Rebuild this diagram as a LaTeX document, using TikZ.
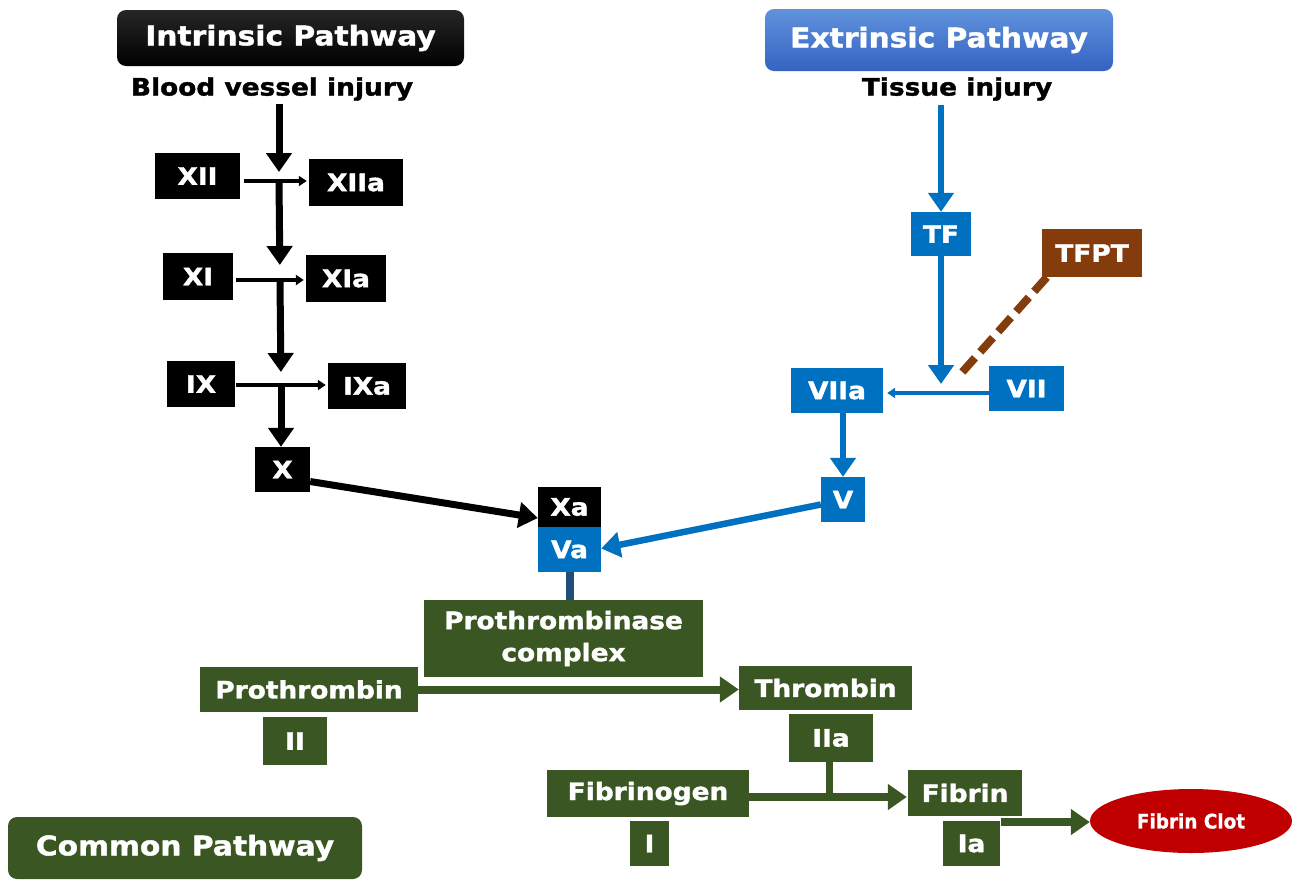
\documentclass[tikz,border=0pt]{standalone}
\usepackage{fontspec}
\setmainfont{DejaVu Sans}[FakeStretch=1.1, BoldFeatures={FakeBold=1.5}]
\newfontfamily\narrowfont{DejaVu Sans}[FakeStretch=0.92, BoldFeatures={FakeBold=1}]
\usetikzlibrary{arrows.meta,calc,shapes.geometric}
\definecolor{ablue}{HTML}{0070C0}
\definecolor{agreen}{HTML}{3A5723}
\definecolor{abrown}{HTML}{843C0C}
\definecolor{ared}{HTML}{C00000}
\definecolor{adark}{HTML}{1F4E79}
\definecolor{hblue1}{HTML}{6192DC}
\definecolor{hblue2}{HTML}{3463C2}
\begin{document}
\begin{tikzpicture}[x=1pt,y=-1pt,
  factor/.style={inner sep=0pt, text=white, font=\bfseries\fontsize{24}{28}\selectfont},
  kbox/.style={factor, fill=black},
  bbox/.style={factor, fill=ablue},
  gbox/.style={factor, fill=agreen},
  header/.style={inner sep=0pt, text=white, rounded corners=9pt, font=\bfseries\fontsize{27}{32}\selectfont},
  caption/.style={inner sep=0pt, text=black, font=\bfseries\fontsize{24}{28}\selectfont},
  bigtip/.style={-{Triangle[width=25pt,length=19pt]}},
  smalltip/.style={-{Triangle[width=10pt,length=8pt]}},
  kthick/.style={draw=black, line width=7pt, bigtip},
  kthin/.style={draw=black, line width=3.5pt, smalltip},
  bthick/.style={draw=ablue, line width=6.5pt, bigtip},
  bthin/.style={draw=ablue, line width=3.5pt, smalltip},
  gthick/.style={draw=agreen, line width=8pt, bigtip},
  gline/.style={draw=agreen, line width=7pt},
  inhibit/.style={draw=abrown, line width=8pt, dash pattern=on 19pt off 8pt},
]
\useasboundingbox (0,0) rectangle (1292,879);

% ---------- intrinsic pathway ----------
\node[header, minimum width=347pt, minimum height=56pt, top color=black!85, bottom color=black]
  (intr) at (290.5,38) {Intrinsic Pathway};
\node[caption] (bvi) at (272,89) {Blood vessel injury};

\node[kbox, minimum width=85pt, minimum height=46pt] (xii)  at (197.5,176) {XII};
\node[kbox, minimum width=94pt, minimum height=47pt] (xiia) at (356,182.5) {XIIa};
\node[kbox, minimum width=70pt, minimum height=47pt] (xi)   at (198,276.5) {XI};
\node[kbox, minimum width=80pt, minimum height=47pt] (xia)  at (346,278.5) {XIa};
\node[kbox, minimum width=68pt, minimum height=46pt] (ix)   at (201,384) {IX};
\node[kbox, minimum width=78pt, minimum height=46pt] (ixa)  at (367,386) {IXa};
\node[kbox, minimum width=55pt, minimum height=45pt] (xf)   at (282.5,469.5) {X};

\coordinate (j1) at (279,181);
\coordinate (j2) at (280,280);
\coordinate (j3) at (281,385);

\draw[kthick, shorten <=3pt, shorten >=9pt] (bvi.south -| j1) -- (j1);
\draw[kthin, shorten <=4pt, shorten >=2pt] (xii.east |- j1) -- (xiia.west |- j1);
\draw[kthick, shorten >=15pt] (j1) -- (j2);
\draw[kthin, shorten <=3pt, shorten >=2pt] (xi.east |- j2) -- (xia.west |- j2);
\draw[kthick, shorten >=13pt] (j2) -- (j3);
\draw[kthin, shorten <=1pt, shorten >=2pt] (ix.east |- j3) -- (ixa.west |- j3);
\draw[kthick] (j3) -- (xf.north -| j3);

% ---------- extrinsic pathway ----------
\node[header, minimum width=348pt, minimum height=62pt, top color=hblue1, bottom color=hblue2]
  (extr) at (939,40) {Extrinsic Pathway};
\node[caption] (ti) at (957,89) {Tissue injury};

\node[bbox, minimum width=60pt, minimum height=44pt] (tf)   at (941,234) {TF};
\node[factor, fill=abrown, minimum width=100pt, minimum height=48pt] (tfpt) at (1092,253) {TFPT};
\node[bbox, minimum width=92pt, minimum height=45pt] (viia) at (837,390.5) {VIIa};
\node[bbox, minimum width=75pt, minimum height=45pt] (vii)  at (1026.5,388.5) {VII};
\node[bbox, minimum width=44pt, minimum height=45pt] (vf)   at (843,499.5) {V};

\coordinate (jv) at (941,393);
\coordinate (tp) at (957,378);

\draw[bthick, shorten <=4pt] (ti.south -| tf.north) -- (tf.north);
\draw[bthick, shorten >=9pt] (tf.south) -- (jv);
\draw[bthin, shorten >=4pt] (vii.west |- jv) -- (viia.east |- jv);
\draw[inhibit] ($(tfpt.south west)+(5,0)$) -- (tp);
\draw[bthick] (viia.south -| vf.north) -- (vf.north);

% ---------- prothrombinase ----------
\node[kbox, minimum width=63pt, minimum height=40pt] (xa) at (569.5,507) {Xa};
\node[bbox, minimum width=63pt, minimum height=45pt] (va) at (569.5,549.5) {Va};

\draw[kthick] ($(xf.east)+(0,12)$) -- ($(xa.west)+(0,11)$);
\draw[bthick] ($(vf.west)+(0,5)$) -- ($(va.east)+(0,-1)$);

% ---------- common pathway ----------
\node[gbox, minimum width=279pt, minimum height=77pt, align=center,
  font=\bfseries\fontsize{24}{32}\selectfont] (pc) at (563.5,638.5) {Prothrombinase\\complex};
\draw[adark, line width=8pt] (va.south) -- (va.south |- pc.north);

\node[gbox, minimum width=218pt, minimum height=45pt] (prot) at (309,689.5) {Prothrombin};
\node[gbox, minimum width=64pt,  minimum height=48pt] (ii)   at (295,741) {II};
\node[gbox, minimum width=173pt, minimum height=44pt] (thr)  at (825.5,688) {Thrombin};
\node[gbox, minimum width=84pt,  minimum height=48pt] (iia)  at (831,738) {IIa};
\node[gbox, minimum width=202pt, minimum height=47pt] (fgn)  at (648,793.5) {Fibrinogen};
\node[gbox, minimum width=39pt,  minimum height=45pt] (ione) at (649.5,843.5) {I};
\node[gbox, minimum width=114pt, minimum height=46pt] (fbn)  at (965,793) {Fibrin};
\node[gbox, minimum width=57pt,  minimum height=45pt] (ia)   at (971.5,843.5) {Ia};
\node[ellipse, fill=ared, inner sep=0pt, minimum width=202pt, minimum height=64pt,
  text=white, font=\narrowfont\bfseries\fontsize{20}{24}\selectfont] (clot) at (1191,821) {Fibrin Clot};

\node[header, fill=agreen, minimum width=354pt, minimum height=62pt] (common) at (185,848) {Common Pathway};

\coordinate (fj) at (829,797);
\coordinate (cj) at (1001,822);

\draw[gthick] (prot.east) -- (thr.west |- prot.east);
\draw[gline] (iia.south -| fj) -- (fj);
\draw[gthick, shorten >=1pt] (fgn.east |- fj) -- (fbn.west |- fj);
\draw[gthick] (cj) -- (clot.west |- cj);
\end{tikzpicture}
\end{document}
